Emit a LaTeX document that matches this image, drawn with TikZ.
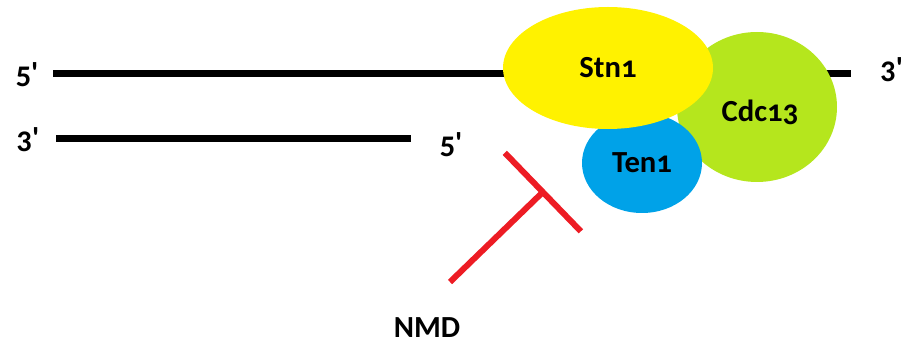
\documentclass[tikz,border=0pt]{standalone}
\usepackage{fontspec}
\newfontfamily\diagfont{Carlito}[Numbers=OldStyle]
\usetikzlibrary{shapes.geometric,arrows.meta}
\definecolor{stnyellow}{HTML}{FFF200}
\definecolor{cdclime}{HTML}{B5E61D}
\definecolor{tenblue}{HTML}{00A2E8}
\definecolor{nmdred}{HTML}{ED1C24}
\begin{document}
\begin{tikzpicture}[x=0.75pt,y=-0.75pt,
    endlabel/.style={font=\diagfont\fontsize{23}{28}\selectfont\bfseries, inner sep=0pt},
    strand/.style={line width=5.25pt},
    protein/.style={ellipse, inner sep=0pt, font=\diagfont\fontsize{23}{28}\selectfont\bfseries}]
  \clip (0,0) rectangle (901,345);

  % Top strand
  \node[endlabel] (top5) at (27,75) {5'};
  \node[endlabel, anchor=west] (top3) at (880,70) {3'};
  \coordinate (topL) at (53,74);
  \coordinate (topR) at (851,74);
  \draw[strand] (topL) -- (topR);

  % Bottom strand
  \node[endlabel] (bot3) at (28,140) {3'};
  \node[endlabel] (bot5) at (451,145) {5'};
  \coordinate (botL) at (56,139);
  \coordinate (botR) at (411,139);
  \draw[strand] (botL) -- (botR);

  % CST complex
  \node[protein, fill=cdclime, minimum width=120pt, minimum height=112.5pt] (cdc) at (757,107) {};
  \node at (760,112) [endlabel] (cdctext) {Cdc13};
  \node[protein, fill=tenblue, minimum width=90pt, minimum height=75pt] (ten) at (642,163) {Ten1};
  \node[protein, fill=stnyellow, minimum width=157.5pt, minimum height=91.5pt] (stn) at (608,68) {Stn1};

  % Inhibition by NMD
  \node[endlabel] (nmd) at (427,328) {NMD};
  \coordinate (nmdstem) at (450,282);
  \coordinate (nmdbar) at (545,190);
  \draw[nmdred, line width=4.5pt, -{Bar[width=82pt, line width=4.5pt]}] (nmdstem) -- (nmdbar);
\end{tikzpicture}
\end{document}
